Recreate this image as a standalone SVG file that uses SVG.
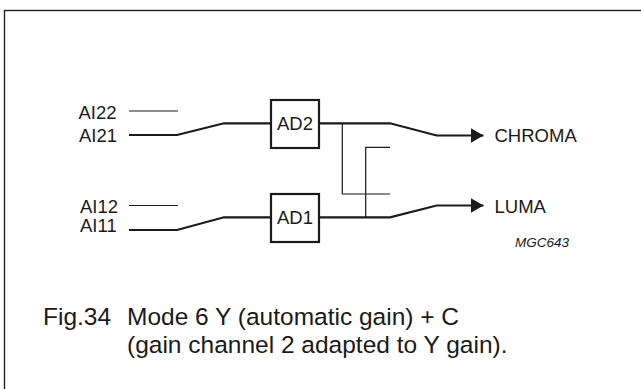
<svg xmlns="http://www.w3.org/2000/svg" width="641" height="389" viewBox="0 0 641 389">
<style>
text{font-family:"Liberation Sans",Arial,sans-serif;fill:#1a1a1a}
.lbl{font-size:18.5px}
.cap{font-size:24.5px}
.thick{stroke:#1a1a1a;stroke-width:2.2;fill:none}
.thin{stroke:#1a1a1a;stroke-width:1.2;fill:none}
.box{stroke:#1a1a1a;stroke-width:2.2;fill:#fff}
</style>
<defs>
<marker id="arr" markerUnits="userSpaceOnUse" markerWidth="14" markerHeight="15" refX="13" refY="7.5" orient="auto">
<path d="M0,0 L13,7.5 L0,15 z" fill="#1a1a1a"/>
</marker>
</defs>
<rect x="4.5" y="10.5" width="700" height="500" fill="none" stroke="#222" stroke-width="1.4"/>
<g id="inputs">
<text class="lbl" x="78.5" y="119">AI22</text>
<text class="lbl" x="79" y="141.5">AI21</text>
<text class="lbl" x="80" y="212.5">AI12</text>
<text class="lbl" x="80" y="232">AI11</text>
</g>
<g id="connectors">
<line class="thin" x1="129" y1="111" x2="178" y2="111"/>
<polyline class="thick" points="129,135 177,135 224,123.3 271,123.3"/>
<line class="thin" x1="129" y1="205.5" x2="178" y2="205.5"/>
<polyline class="thick" points="129,230 177,230 224,217.3 271,217.3"/>
<polyline class="thick" points="319,123.3 390,123.3 436.7,135.5 483.5,135.5" marker-end="url(#arr)"/>
<polyline class="thick" points="319,217.3 390,217.3 436.7,205.5 483.5,205.5" marker-end="url(#arr)"/>
<polyline class="thin" points="342.3,123.3 342.3,194 390,194"/>
<polyline class="thin" points="390,147.3 365.7,147.3 365.7,217.3"/>
</g>
<g id="AD2">
<rect class="box" x="271" y="100" width="48" height="48"/>
<text class="lbl" x="295" y="130" text-anchor="middle">AD2</text>
</g>
<g id="AD1">
<rect class="box" x="271" y="194" width="48" height="48"/>
<text class="lbl" x="295" y="224" text-anchor="middle">AD1</text>
</g>
<g id="outputs">
<text class="lbl" x="494.5" y="142.3">CHROMA</text>
<text class="lbl" x="494.5" y="212.7">LUMA</text>
<text x="515" y="246.7" font-size="13.5" font-style="italic">MGC643</text>
</g>
<g id="caption">
<text class="cap" x="43" y="325">Fig.34</text>
<text class="cap" x="127" y="325">Mode 6 Y (automatic gain) + C</text>
<text class="cap" x="127" y="352.5">(gain channel 2 adapted to Y gain).</text>
</g>
</svg>
